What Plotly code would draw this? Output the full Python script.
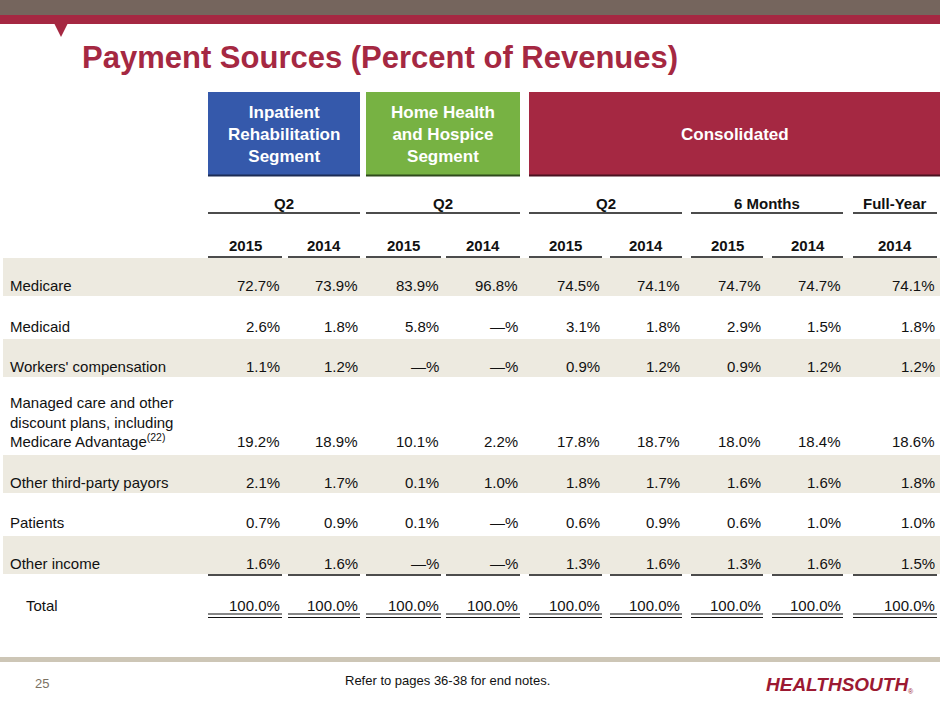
import plotly.graph_objects as go

# table data (None means "—%")
row_labels = [
    "Medicare",
    "Medicaid",
    "Workers' compensation",
    "Managed care and other<br>discount plans, including<br>Medicare Advantage<sup>(22)</sup>",
    "Other third-party payors",
    "Patients",
    "Other income",
]
years = ["2015", "2014", "2015", "2014", "2015", "2014", "2015", "2014", "2014"]
periods = ["Q2", "Q2", "Q2", "6 Months", "Full-Year"]
segments = ["Inpatient<br>Rehabilitation<br>Segment", "Home Health<br>and Hospice<br>Segment", "Consolidated"]

irf_q2_2015 = [72.7, 2.6, 1.1, 19.2, 2.1, 0.7, 1.6]
irf_q2_2014 = [73.9, 1.8, 1.2, 18.9, 1.7, 0.9, 1.6]
hh_q2_2015 = [83.9, 5.8, None, 10.1, 0.1, 0.1, None]
hh_q2_2014 = [96.8, None, None, 2.2, 1.0, None, None]
con_q2_2015 = [74.5, 3.1, 0.9, 17.8, 1.8, 0.6, 1.3]
con_q2_2014 = [74.1, 1.8, 1.2, 18.7, 1.7, 0.9, 1.6]
con_6m_2015 = [74.7, 2.9, 0.9, 18.0, 1.6, 0.6, 1.3]
con_6m_2014 = [74.7, 1.5, 1.2, 18.4, 1.6, 1.0, 1.6]
con_fy_2014 = [74.1, 1.8, 1.2, 18.6, 1.8, 1.0, 1.5]
totals = [100.0] * 9

columns = [irf_q2_2015, irf_q2_2014, hh_q2_2015, hh_q2_2014,
           con_q2_2015, con_q2_2014, con_6m_2015, con_6m_2014, con_fy_2014]

# layout helpers (pixel positions on the slide)
col_spans = [(208, 282), (288, 360), (366, 441), (446, 520), (529, 602),
             (610, 682), (691, 763), (772, 843), (853, 937)]
period_spans = [(208, 360), (366, 520), (529, 682), (691, 843), (853, 937)]
box_spans = [(208, 360), (366, 520), (529, 940)]
box_colors = ["#3559ab", "#77b243", "#a52842"]
box_edges = ["#1c2c55", "#2f4a1c", "#4a1220"]
row_y = [285, 326, 366, 441, 482, 522, 563]
total_y = 605
band_rows = [0, 2, 4, 6]

RED = "#a52842"
FONT = "Liberation Sans, Arial, sans-serif"


def fmt(v):
    return "\u2014%" if v is None else f"{v:.1f}%"


fig = go.Figure()
shapes = []
ann = []

# top bands and pointer
shapes.append(dict(type="rect", x0=0, x1=940, y0=0, y1=15, fillcolor="#75655d", line_width=0))
shapes.append(dict(type="rect", x0=0, x1=940, y0=15, y1=24, fillcolor=RED, line_width=0))
shapes.append(dict(type="path", path="M 54 23 L 68 23 L 61 37 Z", fillcolor=RED, line_width=0))

ann.append(dict(x=80, y=57, text="<b>Payment Sources (Percent of Revenues)</b>", xanchor="left",
                yanchor="middle", showarrow=False, font=dict(size=31, color=RED, family=FONT)))

# header boxes
for (x0, x1), txt, c, e in zip(box_spans, segments, box_colors, box_edges):
    shapes.append(dict(type="rect", x0=x0, x1=x1, y0=92, y1=176, fillcolor=c, line_width=0))
    shapes.append(dict(type="line", x0=x0, x1=x1, y0=175.5, y1=175.5, line=dict(color=e, width=2)))
    ann.append(dict(x=(x0 + x1) / 2, y=134, text=f"<b>{txt}</b>", showarrow=False,
                    xanchor="center", yanchor="middle",
                    font=dict(size=17, color="white", family=FONT)))

# period headers
for (x0, x1), txt in zip(period_spans, periods):
    ann.append(dict(x=(x0 + x1) / 2, y=203, text=f"<b>{txt}</b>", showarrow=False,
                    xanchor="center", yanchor="middle", font=dict(size=15, color="#111", family=FONT)))
    shapes.append(dict(type="line", x0=x0, x1=x1, y0=213, y1=213, line=dict(color="#111", width=1.5)))

# year headers
for (x0, x1), txt in zip(col_spans, years):
    ann.append(dict(x=(x0 + x1) / 2, y=245, text=f"<b>{txt}</b>", showarrow=False,
                    xanchor="center", yanchor="middle", font=dict(size=15, color="#111", family=FONT)))
    shapes.append(dict(type="line", x0=x0, x1=x1, y0=257, y1=257, line=dict(color="#111", width=1.5)))

# row bands
for i in band_rows:
    shapes.append(dict(type="rect", x0=3, x1=940, y0=row_y[i] - 27, y1=row_y[i] + 11,
                       fillcolor="#edeae0", line_width=0, layer="below"))

# row labels and values
for i, lab in enumerate(row_labels):
    ann.append(dict(x=8, y=row_y[i] if i != 3 else 422, text=lab, showarrow=False, align="left",
                    xanchor="left", yanchor="middle", font=dict(size=15, color="#111", family=FONT)))
    for (x0, x1), col in zip(col_spans, columns):
        ann.append(dict(x=x1, y=row_y[i], text=fmt(col[i]), showarrow=False,
                        xanchor="right", yanchor="middle", font=dict(size=15, color="#111", family=FONT)))

# totals
ann.append(dict(x=24, y=total_y, text="Total", showarrow=False, xanchor="left", yanchor="middle",
                font=dict(size=15, color="#111", family=FONT)))
for (x0, x1), v in zip(col_spans, totals):
    ann.append(dict(x=x1, y=total_y, text=fmt(v), showarrow=False, xanchor="right",
                    yanchor="middle", font=dict(size=15, color="#111", family=FONT)))
    shapes.append(dict(type="line", x0=x0, x1=x1, y0=575, y1=575, line=dict(color="#111", width=1.5)))
    shapes.append(dict(type="line", x0=x0, x1=x1, y0=614, y1=614, line=dict(color="#111", width=1.2)))
    shapes.append(dict(type="line", x0=x0, x1=x1, y0=617.5, y1=617.5, line=dict(color="#111", width=1.2)))

# footer
shapes.append(dict(type="rect", x0=0, x1=940, y0=657, y1=662, fillcolor="#cdc6b6", line_width=0))
ann.append(dict(x=42, y=683, text="25", showarrow=False, xanchor="center", yanchor="middle",
                font=dict(size=13, color="#7b7162", family=FONT)))
ann.append(dict(x=447, y=680, text="Refer to pages 36-38 for end notes.", showarrow=False,
                xanchor="center", yanchor="middle", font=dict(size=13, color="#111", family=FONT)))
ann.append(dict(x=764, y=684, text="<b><i>HEALTHSOUTH</i></b>", showarrow=False, xanchor="left",
                yanchor="middle", font=dict(size=19, color="#9c1932", family=FONT)))
ann.append(dict(x=906, y=691, text="®", showarrow=False, xanchor="left", yanchor="middle",
                font=dict(size=7, color="#9c1932", family=FONT)))

fig.update_layout(
    width=940, height=705,
    margin=dict(l=0, r=0, t=0, b=0),
    paper_bgcolor="white", plot_bgcolor="white",
    xaxis=dict(range=[0, 940], visible=False, fixedrange=True),
    yaxis=dict(range=[705, 0], visible=False, fixedrange=True),
    shapes=shapes, annotations=ann, showlegend=False,
)

# drop the browser's default body margin so the slide sits at 0,0
fig.write_html("out.html", config={"displayModeBar": False},
               post_script="document.body.style.margin='0';document.body.style.overflow='hidden';")
